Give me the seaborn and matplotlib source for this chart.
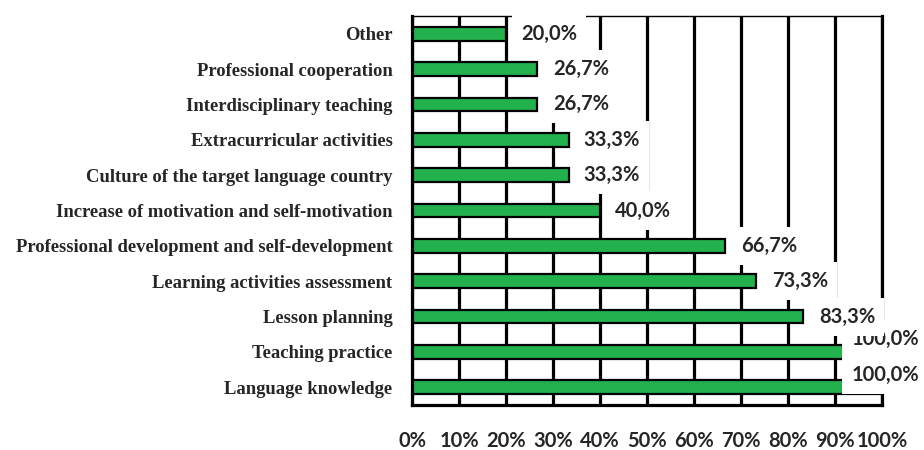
# plot.py
# Horizontal bar chart of survey answers (share of respondents)

import matplotlib
matplotlib.use('Agg')
import matplotlib.pyplot as plt
import seaborn as sns

# Data (top to bottom)
categories = ['Other', 'Professional cooperation', 'Interdisciplinary teaching',
              'Extracurricular activities', 'Culture of the target language country',
              'Increase of motivation and self-motivation',
              'Professional development and self-development',
              'Learning activities assessment', 'Lesson planning',
              'Teaching practice', 'Language knowledge']
percents = [20.0, 26.7, 26.7, 33.3, 33.3, 40.0, 66.7, 73.3, 83.3, 100.0, 100.0]
x_ticks = [0, 10, 20, 30, 40, 50, 60, 70, 80, 90, 100]
x_tick_labels = [f'{t}%' for t in x_ticks]

sns.set_style('white')

fig = plt.figure(figsize=(9.24, 4.5), dpi=100)
ax = fig.add_axes([0.4459, 0.1, 0.5086, 0.8644])

# vertical grid lines behind the bars
for t in x_ticks:
    ax.axvline(t, color='black', linewidth=2.3, zorder=0)

sns.barplot(x=percents, y=categories, orient='h', color='#22B14C',
            edgecolor='black', linewidth=1.6, width=0.39, saturation=1, ax=ax, zorder=2)

ax.set_xlim(0, 100)
ax.set_xticks(x_ticks)
ax.set_xticklabels(x_tick_labels, fontfamily='Lato', fontweight='bold', fontsize=14.5)
ax.tick_params(axis='x', length=0, pad=19)
ax.tick_params(axis='y', length=0, pad=14)
for lab in ax.get_yticklabels():
    lab.set_fontfamily('Liberation Serif')
    lab.set_fontweight('bold')
    lab.set_fontsize(13.4)
ax.set_xlabel('')
ax.set_ylabel('')

for side in ['left', 'bottom', 'right']:
    ax.spines[side].set_color('black')
    ax.spines[side].set_linewidth(2.3)
ax.spines['top'].set_color('black')
ax.spines['top'].set_linewidth(1)

# value labels with white boxes, like the original (upper labels drawn on top)
for i, v in enumerate(percents):
    txt = f'{v:.1f}%'.replace('.', ',')
    if v >= 100:
        offset = (-22, 9)
    else:
        offset = (11, 0)
    ax.annotate(txt, xy=(v, i), xytext=offset, textcoords='offset points',
                ha='left', va='center', fontfamily='Lato', fontweight='bold',
                fontsize=14.5, annotation_clip=False, zorder=10 - i * 0.1,
                bbox=dict(boxstyle='square,pad=0.45', facecolor='white', edgecolor='none'))

fig.savefig('out.png', dpi=100)
